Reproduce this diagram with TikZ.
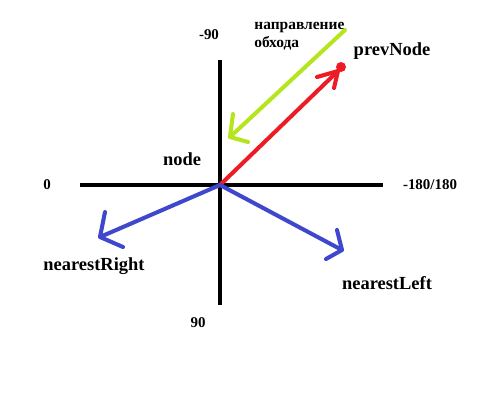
\documentclass[tikz,border=0pt]{standalone}
\usepackage{fontspec}
\setmainfont{Liberation Serif}
\usetikzlibrary{positioning}

\definecolor{paintred}{HTML}{ED1C24}
\definecolor{paintblue}{HTML}{3F48CC}
\definecolor{paintlime}{HTML}{B5E61D}

\tikzset{
  axisline/.style={line width=2.8pt, black},
  stroke/.style={line width=2.3pt, line cap=round, line join=round},
  lbl/.style={font=\bfseries\fontsize{10.5}{12}\selectfont, inner sep=0pt},
  num/.style={font=\bfseries\fontsize{8.5}{10}\selectfont, inner sep=0pt}
}

\begin{document}
\begin{tikzpicture}[x=0.02cm, y=-0.02cm]
\useasboundingbox (0,0) rectangle (490,403);

% Axes
\coordinate (O) at (220,185);
\coordinate (axL) at (80,185);
\coordinate (axR) at (383,185);
\coordinate (axT) at (220,60);
\coordinate (axB) at (220,305);
\draw[axisline] (axL) -- (axR);
\draw[axisline] (axT) -- (axB);

\node[num] (n0) at (47,185) {0};
\node[num] (n180) at (430,185) {-180/180};
\node[num] (nm90) at (209,35) {-90};
\node[num] (n90) at (198,323) {90};
\node[lbl] (node) at (182,159) {node};

% Red arrow to prevNode
\coordinate (rTip) at (338,71);
\coordinate (rB1) at (317,77);
\coordinate (rB2) at (334,88);
\draw[stroke, paintred] (O) -- (rTip);
\draw[stroke, paintred] (rB1) -- (rTip) -- (rB2);
\fill[paintred] (341,67) circle (5);
\node[lbl] (prev) at (392,51) {prevNode};

% Green arrow (direction)
\coordinate (gStart) at (345,30);
\coordinate (gTip) at (230,137);
\coordinate (gB1) at (233,114);
\coordinate (gB2) at (248,142);
\draw[stroke, paintlime] (gStart) -- (gTip);
\draw[stroke, paintlime] (gB1) -- (gTip) -- (gB2);
\node[font=\bfseries\fontsize{8.8}{10.2}\selectfont, inner sep=0pt, anchor=west, align=left] (dir) at (254,36) {направление\\обхода};

% Blue arrows
\coordinate (bRTip) at (100,237);
\coordinate (bRB1) at (105,212);
\coordinate (bRB2) at (123,247);
\draw[stroke, paintblue] (O) -- (bRTip);
\draw[stroke, paintblue] (bRB1) -- (bRTip) -- (bRB2);
\node[lbl] (nr) at (94,266) {nearestRight};

\coordinate (bLTip) at (342,250);
\coordinate (bLB1) at (337,230);
\coordinate (bLB2) at (326,259);
\draw[stroke, paintblue] (O) -- (bLTip);
\draw[stroke, paintblue] (bLB1) -- (bLTip) -- (bLB2);
\node[lbl] (nl) at (387,283) {nearestLeft};

\end{tikzpicture}
\end{document}
